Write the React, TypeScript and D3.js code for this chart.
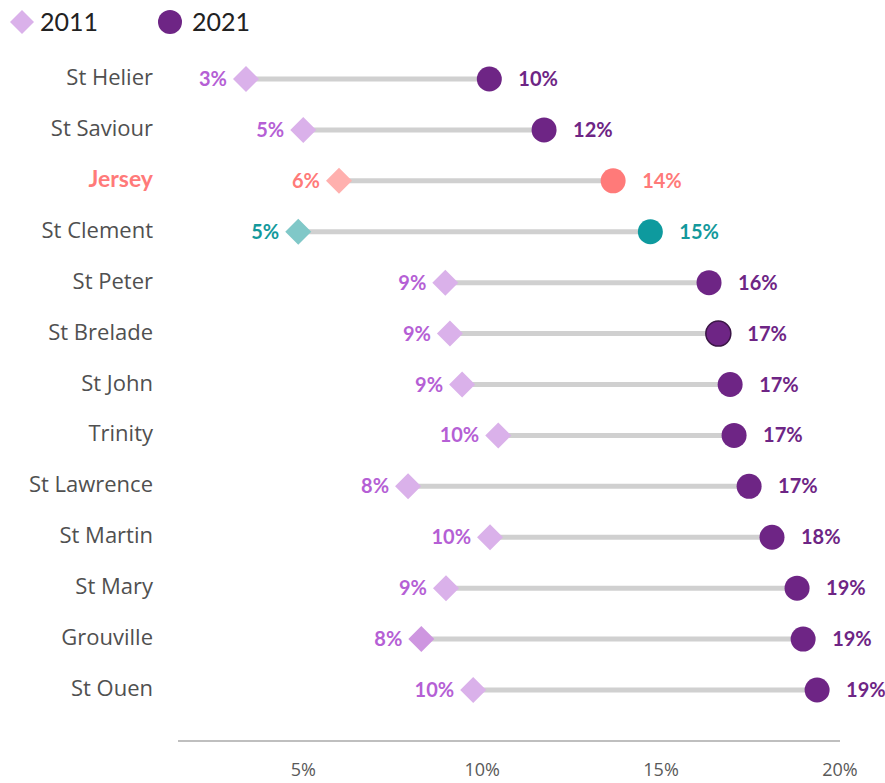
import React from "react";
import * as d3 from "d3";

const categories = ["St Helier","St Saviour","Jersey","St Clement","St Peter","St Brelade","St John","Trinity","St Lawrence","St Martin","St Mary","Grouville","St Ouen"];
const values2011 = [3.4,5.0,6.0,4.86,8.97,9.1,9.44,10.45,7.93,10.22,8.99,8.3,9.75];
const values2021 = [10.2,11.73,13.66,14.7,16.34,16.6,16.93,17.04,17.46,18.1,18.8,18.97,19.36];
const tickValues = [5,10,15,20];
const seriesNames = ["2011","2021"];

const W = 885, H = 783;
const FONT = "Lato, 'Open Sans', sans-serif";
const FONT2 = "'Open Sans', sans-serif";

function styleFor(cat: string) {
  if (cat === "Jersey") return { dia: "#FFB0AE", circ: "#FF7A79", l1: "#FF7A79", l2: "#FF7A79", cat: "#FF7A79", bold: true, stroke: "none" };
  if (cat === "St Clement") return { dia: "#80C8C8", circ: "#0E9A9E", l1: "#13999C", l2: "#13999C", cat: "#505050", bold: false, stroke: "none" };
  return { dia: cat === "Grouville" ? "#CE96E0" : "#DAB1EA", circ: "#6E2585", l1: "#B55FD5", l2: "#6E2585", cat: "#505050", bold: false, stroke: cat === "St Brelade" ? "#3A1545" : "none" };
}

export default function App() {
  const x = d3.scaleLinear().domain([1.5, 20]).range([178, 840]);
  const y = d3.scalePoint<string>().domain(categories).range([79, 690]);
  const diamond = (cx: number, cy: number, r: number) => `M${cx},${cy - r}L${cx + r},${cy}L${cx},${cy + r}L${cx - r},${cy}Z`;
  const fmt = (v: number) => `${Math.round(v)}%`;
  return (
    <svg width={W} height={H} style={{ position: "absolute", left: 0, top: 0 }} fontFamily={FONT}>
      {/* legend */}
      <path d={diamond(22, 22, 12)} fill="#DAB1EA" />
      <text x={40} y={31} fontSize={25} fill="#222">{seriesNames[0]}</text>
      <circle cx={170} cy={22} r={12} fill="#6E2585" />
      <text x={192} y={31} fontSize={25} fill="#222">{seriesNames[1]}</text>

      {/* axis */}
      <line x1={x(1.5)} x2={x(20)} y1={741} y2={741} stroke="#BFBFBF" strokeWidth={2} />
      {tickValues.map(t => (
        <text key={t} x={x(t)} y={776} fontSize={18} fontFamily={FONT2} fill="#595959" textAnchor="middle">{t}%</text>
      ))}

      {categories.map((c, i) => {
        const s = styleFor(c);
        const cy = y(c)!;
        const x1 = x(values2011[i]), x2 = x(values2021[i]);
        return (
          <g key={c}>
            <text x={153} y={cy + 6} fontSize={s.bold ? 23 : 22} fontFamily={s.bold ? FONT : FONT2} textAnchor="end" fill={s.cat} fontWeight={s.bold ? 700 : 400}>{c}</text>
            <line x1={x1} x2={x2} y1={cy} y2={cy} stroke="#D0D0D0" strokeWidth={5} />
            <path d={diamond(x1, cy, 13)} fill={s.dia} />
            <circle cx={x2} cy={cy} r={12.5} fill={s.circ} stroke={s.stroke} strokeWidth={s.stroke === "none" ? 0 : 1.5} />
            <text x={x1 - 19} y={cy + 7} fontSize={20} fontWeight={700} textAnchor="end" fill={s.l1}>{fmt(values2011[i])}</text>
            <text x={x2 + 29} y={cy + 7} fontSize={20} fontWeight={700} textAnchor="start" fill={s.l2}>{fmt(values2021[i])}</text>
          </g>
        );
      })}
    </svg>
  );
}
